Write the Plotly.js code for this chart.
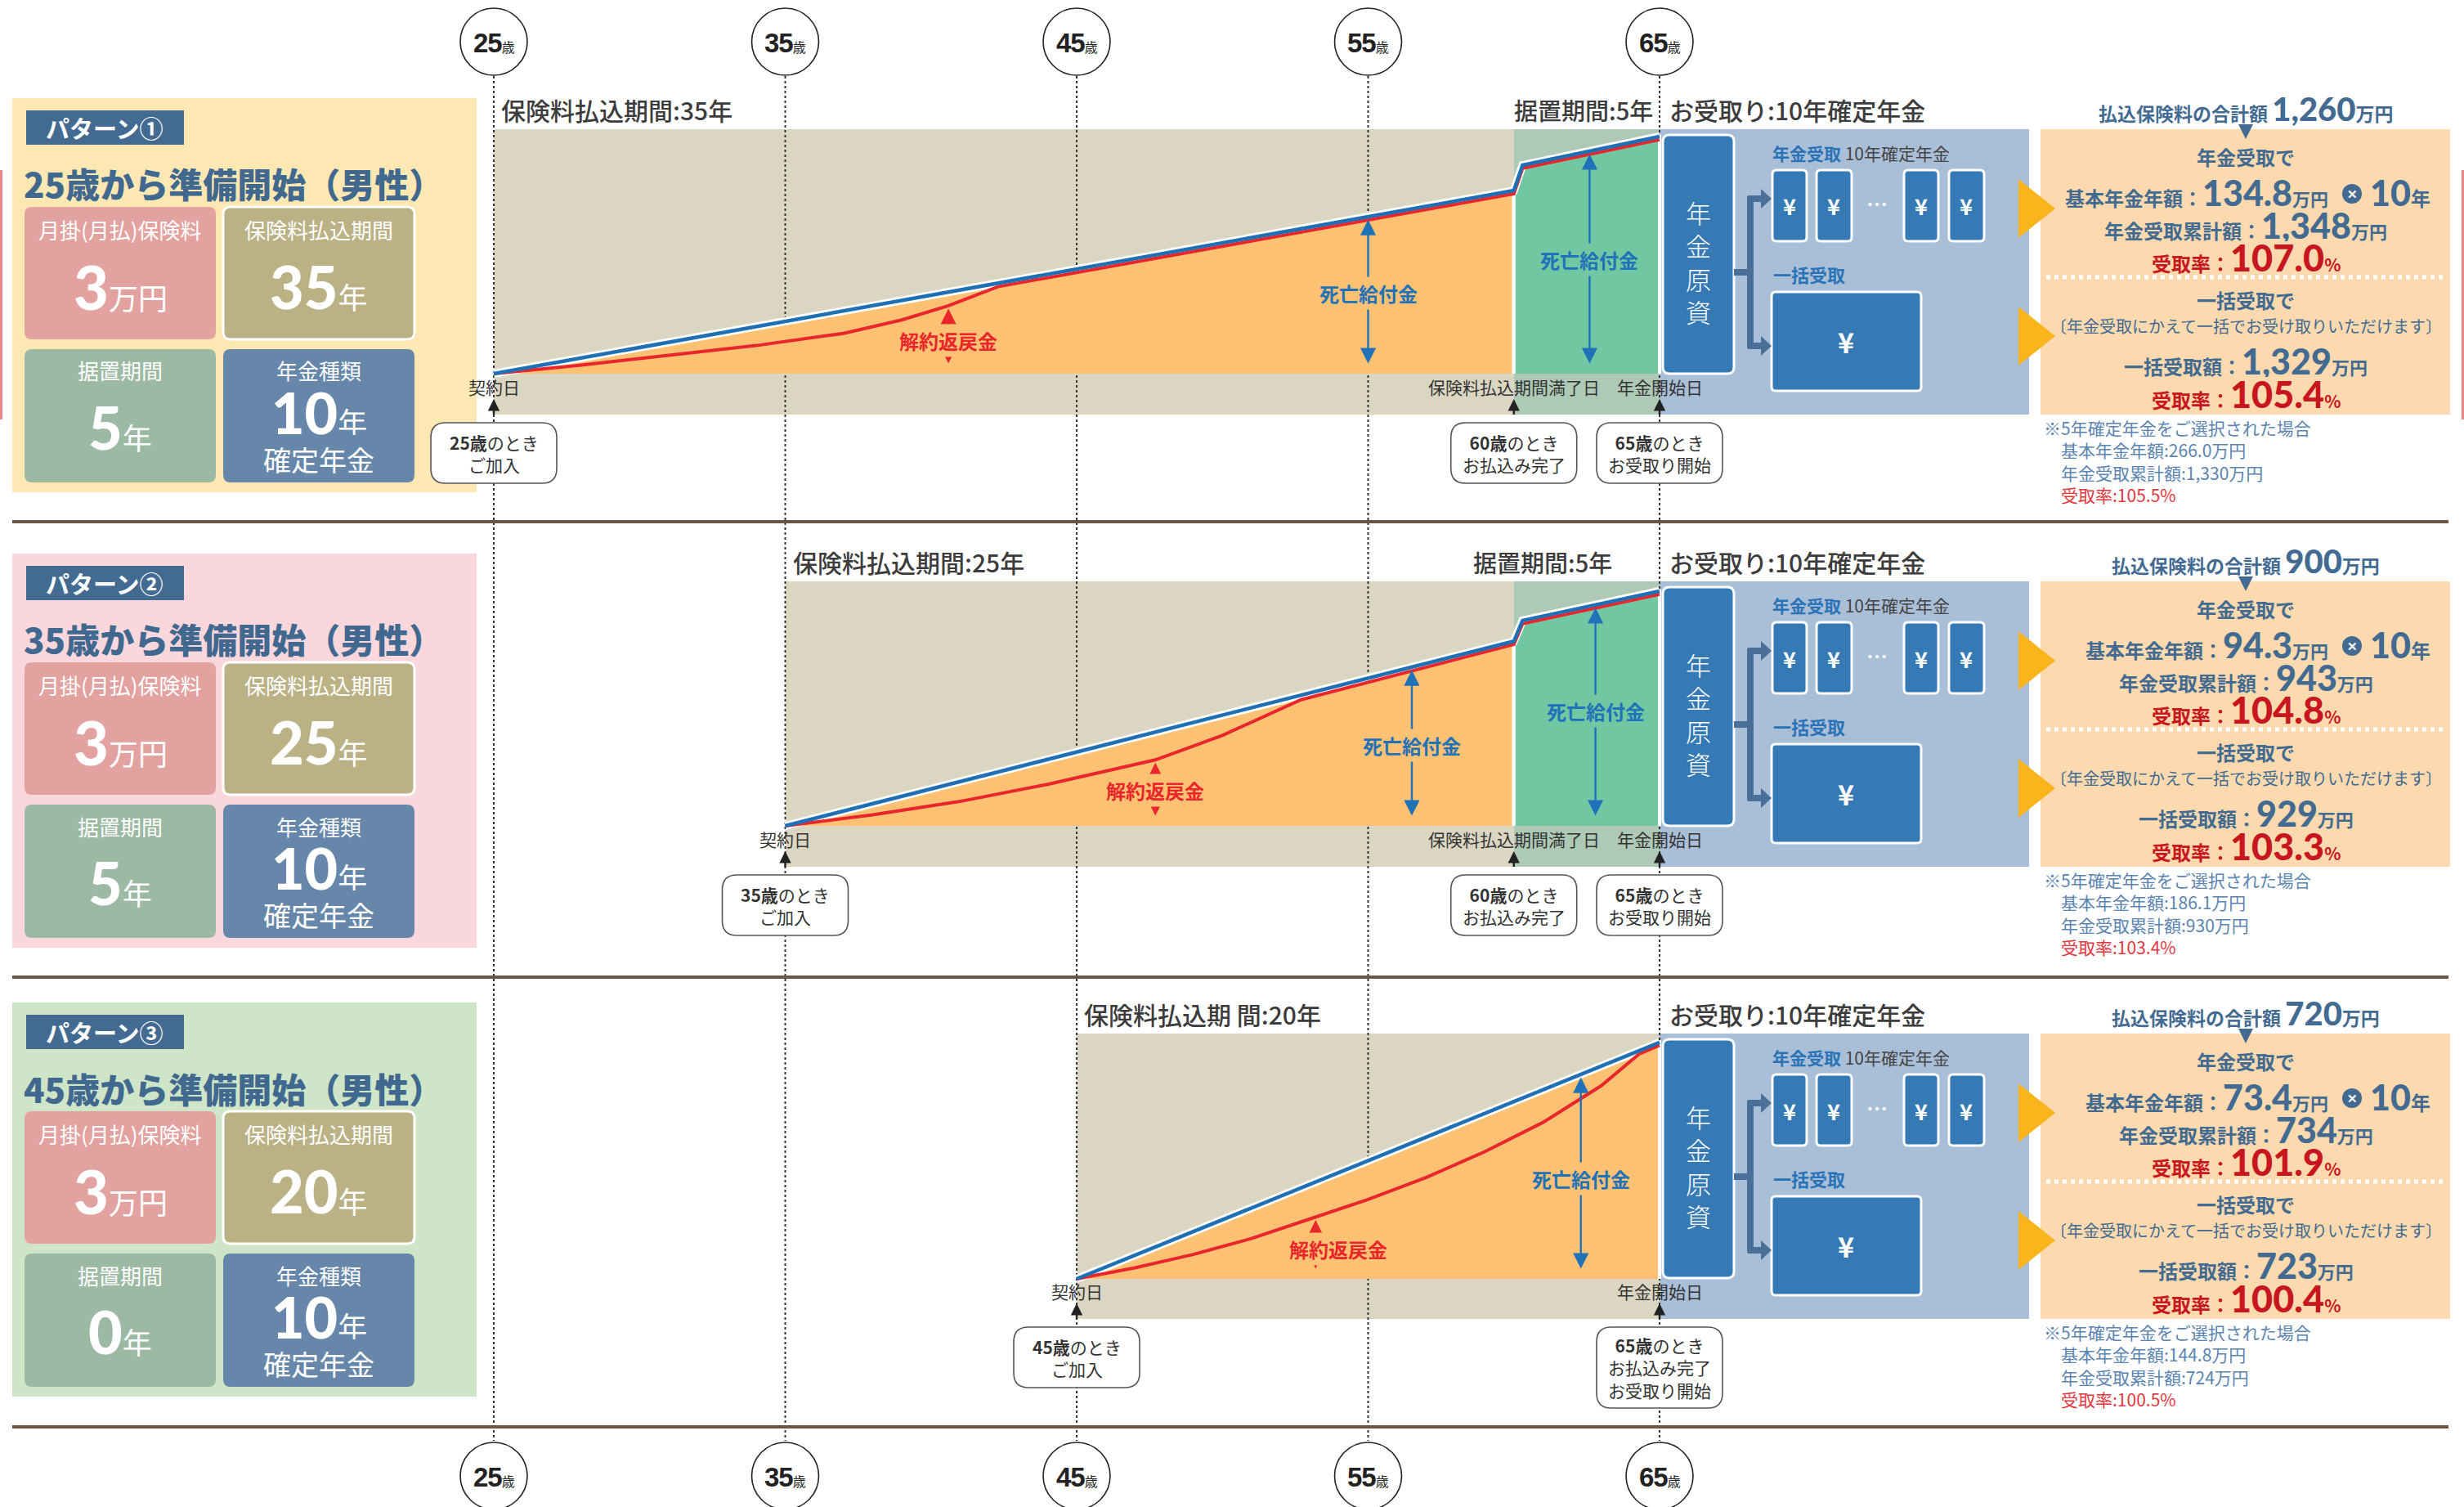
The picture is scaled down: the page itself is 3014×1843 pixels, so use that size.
<!DOCTYPE html>
<html><head><meta charset="utf-8">
<script src="https://cdn.plot.ly/plotly-3.0.1.min.js"></script>
<style>html,body{margin:0;padding:0;background:#fff;}#chart{width:3014px;height:1843px;}</style>
</head><body><div id="chart"></div>
<script>
// ---------------- data ----------------
const ageTicks=[25,35,45,55,65];
const patternLabels=['パターン①','パターン②','パターン③'];
const patternTitles=['25歳から準備開始（男性）','35歳から準備開始（男性）','45歳から準備開始（男性）'];
const startAges=[25,35,45];
const payEndAges=[60,60,65];
const pensionStartAge=65;
const monthlyPremium=[3,3,3];
const payYears=[35,25,20];
const deferYears=[5,5,0];
const pensionYears=[10,10,10];
const totalPremium=['1,260','900','720'];
const basicAnnual=['134.8','94.3','73.4'];
const pensionTotal=['1,348','943','734'];
const pensionRate=['107.0','104.8','101.9'];
const lumpSum=['1,329','929','723'];
const lumpRate=['105.4','103.3','100.4'];
const fiveAnnual=['266.0','186.1','144.8'];
const fiveTotal=['1,330','930','724'];
const fiveRate=['105.5','103.4','100.5'];
const payLabels=['保険料払込期間:35年','保険料払込期間:25年','保険料払込期 間:20年'];
const deferLabels=['据置期間:5年','据置期間:5年',''];
// curves (height within the chart band, %)
const p1DeathAge=[25,60,60.3,65];
const p1DeathVal=[0,74.9,85.3,97.0];
const p1SurrAge=[25,28,31,34,37,39,40.6,42.3,60,60.3,65];
const p1SurrVal=[0,3.5,7.5,11.5,16.5,22,27.8,35.6,73.6,84.0,95.7];
const p2DeathAge=[35,60,60.3,65];
const p2DeathVal=[0,75.5,84.0,96.0];
const p2SurrAge=[35,38,41,44,47.7,50,52.7,60,60.3,65];
const p2SurrVal=[0,4.5,10,17,27,37,51.6,74.2,82.7,94.7];
const p3DeathAge=[45,65];
const p3DeathVal=[0,96.7];
const p3SurrAge=[45,47,49,51,53,55,57,59,61,63,64.3,65];
const p3SurrVal=[0,4.5,10,16.5,24.5,32.5,41.5,52,64,79,92,95.5];
// label positions
const deathLabelAge=[[55,62.6],[56.5,62.8],[62.3]];
const deathLabelH=[[33,46.5],[33,47],[41]];
const surrArrowAge=[40.6,47.7,53.2];
const surrLabelAge=[40.6,47.7,53.97];
const surrLabelH=[13.4,14.4,12.3];
const callouts=[
 [[25,['<b>25歳</b>のとき','ご加入']],[60,['<b>60歳</b>のとき','お払込み完了']],[65,['<b>65歳</b>のとき','お受取り開始']]],
 [[35,['<b>35歳</b>のとき','ご加入']],[60,['<b>60歳</b>のとき','お払込み完了']],[65,['<b>65歳</b>のとき','お受取り開始']]],
 [[45,['<b>45歳</b>のとき','ご加入']],[65,['<b>65歳</b>のとき','お払込み完了','お受取り開始']]]
];
const bandLabels=[
 [[25,'契約日'],[60,'保険料払込期間満了日'],[65,'年金開始日']],
 [[35,'契約日'],[60,'保険料払込期間満了日'],[65,'年金開始日']],
 [[45,'契約日'],[65,'年金開始日']]
];

// ---------------- geometry helpers ----------------
const W=3014,H=1843;
const X0=604, PXA=35.65;
const ax=a=>X0+(a-25)*PXA;
const px=x=>x/W, py=y=>1-y/H;
const P=(x,y)=>`${px(x).toFixed(6)},${py(y).toFixed(6)}`;
const JP='Noto Sans CJK JP, Noto Sans, sans-serif';
const U=2.99;
const TOPS=[158,711,1264];
const BOXT=[120,677,1226];
const S=[], A=[];
function rect(x0,y0,x1,y1,fill,lc,lw){S.push({type:'rect',xref:'paper',yref:'paper',layer:'below',x0:px(x0),x1:px(x1),y0:py(y1),y1:py(y0),fillcolor:fill,line:{color:lc||'rgba(0,0,0,0)',width:lw||0}});}
function rrect(x0,y0,x1,y1,r,fill,lc,lw){
 const d=`M${P(x0+r,y0)} L${P(x1-r,y0)} Q${P(x1,y0)} ${P(x1,y0+r)} L${P(x1,y1-r)} Q${P(x1,y1)} ${P(x1-r,y1)} L${P(x0+r,y1)} Q${P(x0,y1)} ${P(x0,y1-r)} L${P(x0,y0+r)} Q${P(x0,y0)} ${P(x0+r,y0)} Z`;
 S.push({type:'path',xref:'paper',yref:'paper',layer:'below',path:d,fillcolor:fill,line:{color:lc||'rgba(0,0,0,0)',width:lw||0}});}
function poly(pts,fill){S.push({type:'path',xref:'paper',yref:'paper',layer:'below',path:'M'+pts.map(p=>P(p[0],p[1])).join(' L')+' Z',fillcolor:fill,line:{width:0,color:'rgba(0,0,0,0)'}});}
function pline(pts,color,w){S.push({type:'path',xref:'paper',yref:'paper',layer:'below',path:'M'+pts.map(p=>P(p[0],p[1])).join(' L'),line:{color:color,width:w}});}
function line(x0,y0,x1,y1,color,w,dash){S.push({type:'line',xref:'paper',yref:'paper',layer:'below',x0:px(x0),x1:px(x1),y0:py(y0),y1:py(y1),line:{color:color,width:w,dash:dash||'solid'}});}
function circ(cx,cy,r,fill,lc,lw){S.push({type:'circle',xref:'paper',yref:'paper',layer:'below',x0:px(cx-r),x1:px(cx+r),y0:py(cy+r),y1:py(cy-r),fillcolor:fill||'#fff',line:{color:lc||'#222',width:lw===undefined?1.6:lw}});}
function T(x,y,text,size,color,o){o=o||{};const a={xref:'paper',yref:'paper',x:px(x),y:py(y),text:text,showarrow:false,font:{family:o.family||JP,size:size,color:color,weight:o.weight||400},xanchor:o.xa||'center',yanchor:o.ya||'middle',borderpad:0,align:o.align||'center'};if(o.h)a.height=o.h;A.push(a);}
const num=(t,s,w)=>`<span style="font-family:Lato;font-size:${s}px;font-weight:${w||900}">${t}</span>`;
function interp(xs,ys,x){for(let i=0;i<xs.length-1;i++){if(x>=xs[i]&&x<=xs[i+1]){const t=(x-xs[i])/(xs[i+1]-xs[i]||1);return ys[i]+t*(ys[i+1]-ys[i]);}}return ys[ys.length-1];}

// ---------------- static layout decorations ----------------
const leftFill=['#fde8b4','#f9d7dc','#cee5c7'];
for(let k=0;k<3;k++){const b=BOXT[k];
 rect(15,b,583,b+482,leftFill[k]);
 rect(32,b+15,225,b+57,'#436b92');
 rrect(30,b+133,264,b+295,9,'#e2a3a0');
 rrect(273,b+133,507,b+295,9,'#bab285','#ffffff',3);
 rrect(30,b+307,264,b+470,9,'#9cb9a3');
 rrect(273,b+307,507,b+470,9,'#6687aa');
}
for(let k=0;k<3;k++){const t=TOPS[k];
 rect(ax(startAges[k]),t,ax(payEndAges[k]),t+349,'#dbd6c1');
 if(payEndAges[k]<pensionStartAge) rect(ax(payEndAges[k]),t,ax(pensionStartAge),t+349,'#aecab6');
 rect(ax(pensionStartAge),t,2482,t+349,'#a9bed7');
 rect(2496,t,2997,t+349,'#fcd9ae');
}
rect(0,208,3,513,'#e8868a'); rect(3011,208,3014,513,'#e8868a');
ageTicks.forEach(a=>line(ax(a),93,ax(a),1762,'#333',2,'dot'));
[638,1195,1745].forEach(y=>{line(15,y,2995,y,'#6b5646',4);});
ageTicks.forEach(a=>{circ(ax(a),51,41);circ(ax(a),1805,41);});
for(let k=0;k<3;k++){const t=TOPS[k];
 rrect(2034,t+7,2121,t+299,8,'#3579b5','#fff',3);
 [[2168,2210],[2222,2265],[2329,2371],[2384,2427]].forEach(p=>rrect(p[0],t+50,p[1],t+137,5,'#3579b5','#fff',3));
 rrect(2167,t+199,2350,t+320,5,'#3579b5','#fff',3);
 pline([[2121,t+175],[2141,t+175]],'#4a6f98',8);
 pline([[2141,t+82],[2141,t+268]],'#4a6f98',8);
 pline([[2138,t+85],[2156,t+85]],'#4a6f98',8);
 pline([[2138,t+265],[2156,t+265]],'#4a6f98',8);
 poly([[2154,t+73],[2154,t+97],[2167,t+85]],'#4a6f98');
 poly([[2154,t+253],[2154,t+277],[2167,t+265]],'#4a6f98');
 poly([[2469,t+61],[2469,t+133],[2514,t+97]],'#f9b51b');
 poly([[2469,t+217],[2469,t+289],[2514,t+253]],'#f9b51b');
 poly([[2738,t-6],[2756,t-6],[2747,t+12]],'#436b92');
 line(2503,t+181,2990,t+181,'#ffffff',5,'dot');
 circ(2877,t+79,12,'#436b92','#436b92',0);
}
for(let k=0;k<3;k++){const t=TOPS[k];
 callouts[k].forEach(c=>{const cx=ax(c[0]);const n=c[1].length;
  rrect(cx-77,t+359,cx+77,t+359+24+25*n,18,'#fff','#555',1.6);
  T(cx,t+371+12.5*n,c[1].join('<br>'),21,'#333');
  A.push({xref:'paper',yref:'paper',x:px(cx),y:py(t+330),ax:0,ay:29,text:' ',showarrow:true,arrowhead:2,arrowsize:1.2,arrowwidth:2.4,arrowcolor:'#222',standoff:0,startstandoff:0});
 });
 bandLabels[k].forEach(l=>T(ax(l[0]),t+315,l[1],21,'#333'));
}

// ---------------- texts ----------------
ageTicks.forEach(a=>{
 const s=`<b><span style="font-family:Liberation Sans;font-size:33px;letter-spacing:-1px">${a}</span></b><span style="font-size:16px">歳</span>`;
 T(ax(a),52,s,16,'#222'); T(ax(a),1806,s,16,'#222');
});
for(let k=0;k<3;k++){const b=BOXT[k],t=TOPS[k];
 T(128,b+36,'<b>'+patternLabels[k]+'</b>',29,'#fff');
 T(28,b+104,'<span style="font-weight:900">'+patternTitles[k]+'</span>',42,'#41688f',{xa:'left'});
 T(147,b+160,'月掛(月払)保険料',26,'#fff');
 T(147,b+230,num(monthlyPremium[k],74)+'万円',36,'#fff',{h:70});
 T(390,b+160,'保険料払込期間',26,'#fff');
 T(390,b+230,num(payYears[k],72)+'年',36,'#fff',{h:70});
 T(147,b+333,'据置期間',26,'#fff');
 T(147,b+402,num(deferYears[k],72)+'年',36,'#fff',{h:70});
 T(390,b+333,'年金種類',26,'#fff');
 T(390,b+384,num(pensionYears[k],70)+'年',36,'#fff',{h:56});
 T(390,b+441,'確定年金',34,'#fff',{h:40});
 T(ax(startAges[k])+8,t-24,payLabels[k],30,'#3c3c3c',{xa:'left',weight:500});
 if(deferLabels[k]) T(k===0?1851:1801,t-24,deferLabels[k],29,'#3c3c3c',{xa:'left',weight:500});
 T(2041,t-24,'お受取り:10年確定年金',30,'#3c3c3c',{xa:'left',weight:500});
 T(2167,t+29,'<b><span style="color:#2a73b6">年金受取</span></b> 10年確定年金',21,'#444',{xa:'left'});
 T(2168,t+177,'<b>一括受取</b>',22,'#2a73b6',{xa:'left'});
 T(2077,t+162,'年<br>金<br>原<br>資',31,'#fff',{weight:300});
 [2189,2243,2350,2405].forEach(x=>T(x,t+94,'<b>¥</b>',27,'#fff'));
 T(2296,t+90,'<b>…</b>',26,'#fff');
 T(2258,t+259,'<b>¥</b>',34,'#fff');
 const c='#436b92',r='#c8161e';
 const yen='<b><span style="font-size:22px">万円</span></b>';
 T(2747,t-25,'<b>払込保険料の合計額 </b>'+num(totalPremium[k],40)+'<b>万円</b>',23,c,{h:46});
 T(2747,t+33,'<b>年金受取で</b>',24,c,{h:30});
 T(2849,t+77,'<b>基本年金年額：</b>'+num(basicAnnual[k],43)+yen,24,c,{xa:'right',h:40});
 T(2877,t+78,'<b>✕</b>',15,'#fff',{h:20});
 T(2898,t+77,num(pensionYears[k],43)+'<b>年</b>',24,c,{xa:'left',h:40});
 T(2747,t+117,'<b>年金受取累計額：</b>'+num(pensionTotal[k],43)+yen,24,c,{h:40});
 T(2747,t+157,'<b>受取率：</b>'+num(pensionRate[k],45)+'<b><span style="font-size:21px">%</span></b>',24,r,{h:40});
 T(2747,t+208,'<b>一括受取で</b>',24,c,{h:30});
 T(2747,t+240,'〔年金受取にかえて一括でお受け取りいただけます〕',20,c,{h:28});
 T(2747,t+283,'<b>一括受取額：</b>'+num(lumpSum[k],43)+yen,24,c,{h:40});
 T(2747,t+324,'<b>受取率：</b>'+num(lumpRate[k],45)+'<b><span style="font-size:21px">%</span></b>',24,r,{h:40});
 T(2499,t+406,'※5年確定年金をご選択された場合<br>　基本年金年額:'+fiveAnnual[k]+'万円<br>　年金受取累計額:'+fiveTotal[k]+'万円<br>　<span style="color:#e0383e">受取率:'+fiveRate[k]+'%</span>',21,'#5b84b1',{xa:'left',align:'left'});
}

// ---------------- traces ----------------
const deathAges=[p1DeathAge,p2DeathAge,p3DeathAge], deathVals=[p1DeathVal,p2DeathVal,p3DeathVal];
const surrAges=[p1SurrAge,p2SurrAge,p3SurrAge], surrVals=[p1SurrVal,p2SurrVal,p3SurrVal];
const traces=[];
for(let k=0;k<3;k++){
 const ya=k===0?'y':'y'+(k+1);
 const da=deathAges[k], dv=deathVals[k], pe=payEndAges[k];
 const i=da.indexOf(pe);
 traces.push({type:'scatter',mode:'lines',xaxis:'x',yaxis:ya,x:da.slice(0,i+1).concat([pe]),y:dv.slice(0,i+1).concat([0]),fill:'toself',fillcolor:'#fcc173',line:{color:'#fff',width:4},hoverinfo:'skip',showlegend:false});
 if(pe<pensionStartAge){
  traces.push({type:'scatter',mode:'lines',xaxis:'x',yaxis:ya,x:[pe].concat(da.slice(i)).concat([pensionStartAge]),y:[0].concat(dv.slice(i)).concat([0]),fill:'toself',fillcolor:'#72c7a3',line:{color:'#fff',width:4},hoverinfo:'skip',showlegend:false});
 }
 traces.push({type:'scatter',mode:'lines',xaxis:'x',yaxis:ya,x:da,y:dv,line:{color:'#fff',width:10},hoverinfo:'skip',showlegend:false});
 traces.push({type:'scatter',mode:'lines',xaxis:'x',yaxis:ya,x:surrAges[k],y:surrVals[k],line:{color:'#e8262b',width:4},hoverinfo:'skip',showlegend:false});
 traces.push({type:'scatter',mode:'lines',xaxis:'x',yaxis:ya,x:da,y:dv,line:{color:'#1f6fb5',width:4.5},hoverinfo:'skip',showlegend:false});
 deathLabelAge[k].forEach((a,j)=>{
  const top=interp(da,dv,a)-1.2;
  A.push({xref:'x',yref:ya,axref:'x',ayref:ya,x:a,y:top,ax:a,ay:0.8,text:' ',showarrow:true,arrowhead:2,startarrowhead:2,arrowside:'end+start',arrowsize:1.6,startarrowsize:1.6,arrowwidth:2.4,arrowcolor:'#1f72b8',standoff:0,startstandoff:0});
  const inGreen=a>pe;
  A.push({xref:'x',yref:ya,x:a,y:deathLabelH[k][j],text:'<b>死亡給付金</b>',showarrow:false,font:{family:JP,size:24,color:'#1f72b8'},bgcolor:inGreen?'#72c7a3':'#fcc173',borderpad:2});
 });
 const sa=surrArrowAge[k], stop=interp(surrAges[k],surrVals[k],sa)-1.2;
 A.push({xref:'x',yref:ya,axref:'x',ayref:ya,x:sa,y:stop,ax:sa,ay:0.8,text:' ',showarrow:true,arrowhead:2,startarrowhead:2,arrowside:'end+start',arrowsize:1.6,startarrowsize:1.6,arrowwidth:2.4,arrowcolor:'#e8262b',standoff:0,startstandoff:0});
 A.push({xref:'x',yref:ya,x:surrLabelAge[k],y:surrLabelH[k],text:'<b>解約返戻金</b>',showarrow:false,font:{family:JP,size:24,color:'#e8262b'},bgcolor:'#fcc173',borderpad:2});
}

const BASE=[457,1010,1564];
const yax=k=>({domain:[py(BASE[k]+5*U),py(BASE[k]-105*U)],range:[-5,105],visible:false,fixedrange:true,anchor:'x'});
const layout={width:W,height:H,margin:{l:0,r:0,t:0,b:0},paper_bgcolor:'#fff',plot_bgcolor:'rgba(0,0,0,0)',
 font:{family:JP},showlegend:false,
 xaxis:{domain:[0,1],range:[25-X0/PXA,25+(W-X0)/PXA],visible:false,fixedrange:true,anchor:'y'},
 yaxis:yax(0),yaxis2:yax(1),yaxis3:yax(2),
 shapes:S,annotations:A};
Plotly.newPlot('chart',traces,layout,{staticPlot:true,displayModeBar:false});
</script></body></html>
